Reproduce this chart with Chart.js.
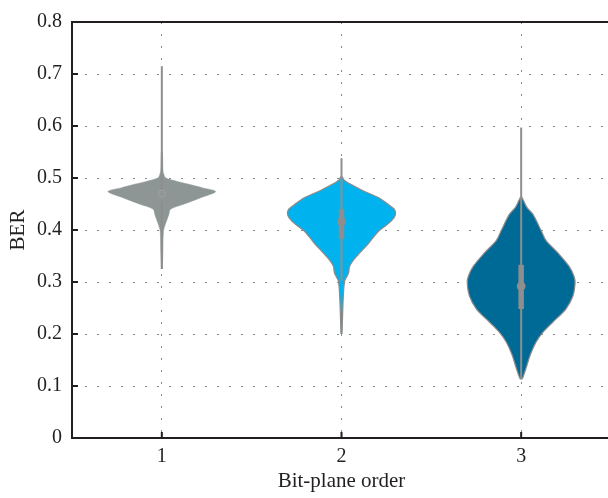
<!DOCTYPE html>
<html>
<head>
<meta charset="utf-8">
<script src="https://cdn.jsdelivr.net/npm/chart.js@4/dist/chart.umd.min.js"></script>
<style>
  html, body { margin: 0; padding: 0; background: #fff; }
  #wrap { width: 608px; height: 498px; overflow: hidden; }
</style>
</head>
<body>
<div id="wrap"><canvas id="berChart" width="616" height="498"></canvas></div>
<script>
const planeOrders = [1, 2, 3];
const yTickValues = [0, 0.1, 0.2, 0.3, 0.4, 0.5, 0.6, 0.7, 0.8];

// density outlines per bit plane: BER levels and relative width (1 = widest)
const plane1Levels  = [0.325, 0.36, 0.398, 0.411, 0.43, 0.44, 0.449, 0.462, 0.474, 0.481, 0.487, 0.493, 0.5, 0.506, 0.515, 0.55];
const plane1Density = [0.01, 0.02, 0.03, 0.065, 0.13, 0.16, 0.39, 0.72, 1.0, 0.76, 0.54, 0.3, 0.075, 0.04, 0.02, 0.01];

const plane2Levels  = [0.2, 0.26, 0.292, 0.304, 0.317, 0.33, 0.342, 0.355, 0.374, 0.386, 0.399, 0.405, 0.418, 0.429, 0.44, 0.449, 0.462, 0.474, 0.487, 0.493, 0.497, 0.502];
const plane2Density = [0.01, 0.028, 0.046, 0.065, 0.13, 0.15, 0.22, 0.33, 0.5, 0.59, 0.7, 0.78, 0.93, 1.0, 0.98, 0.87, 0.69, 0.43, 0.19, 0.09, 0.04, 0.015];

const plane3Levels  = [0.113, 0.116, 0.135, 0.16, 0.185, 0.204, 0.223, 0.248, 0.273, 0.298, 0.311, 0.33, 0.355, 0.38, 0.399, 0.43, 0.443, 0.455, 0.463];
const plane3Density = [0.01, 0.03, 0.093, 0.17, 0.28, 0.41, 0.59, 0.83, 0.96, 1.0, 0.98, 0.89, 0.69, 0.46, 0.37, 0.22, 0.11, 0.05, 0.01];

// [whisker low, q1, median, q3, whisker high]
const plane1Stats = [0.325, 0.455, 0.47, 0.478, 0.715];
const plane2Stats = [0.302, 0.383, 0.416, 0.44, 0.538];
const plane3Stats = [0.113, 0.248, 0.292, 0.333, 0.597];

const fills = ['#8d9695', '#00b3ef', '#006a96'];
const edges = ['#8d9695', '#8c8c8c', '#8c8c8c'];
const boxGray = '#8e8e8e';
const HALF = 0.3; // widest half-width in category units

const levels = [plane1Levels, plane2Levels, plane3Levels];
const densities = [plane1Density, plane2Density, plane3Density];
const stats = [plane1Stats, plane2Stats, plane3Stats];

function outline(pos, ys, ds) {
  const right = ys.map((y, i) => ({ x: pos + ds[i] * HALF, y }));
  const left = ys.map((y, i) => ({ x: pos - ds[i] * HALF, y })).reverse();
  return right.concat(left);
}

const datasets = [];
planeOrders.forEach((pos, i) => {
  datasets.push({
    data: outline(pos, levels[i], densities[i]),
    showLine: true, fill: 'shape', tension: 0.3,
    backgroundColor: fills[i], borderColor: edges[i], borderWidth: i === 0 ? 0.5 : 1.2,
    pointRadius: 0, order: 3
  });
  const s = stats[i];
  datasets.push({
    data: [{ x: pos, y: s[0] }, { x: pos, y: s[4] }],
    showLine: true, borderColor: boxGray, borderWidth: 2, pointRadius: 0, order: 2
  });
  datasets.push({
    data: [{ x: pos, y: s[1] }, { x: pos, y: s[3] }],
    showLine: true, borderColor: i === 0 ? fills[0] : boxGray, borderWidth: 5.5, pointRadius: 0, order: 1
  });
  datasets.push({
    data: [{ x: pos, y: s[2] }],
    showLine: false, pointRadius: i === 0 ? 3.5 : 4,
    pointBackgroundColor: i === 0 ? fills[0] : boxGray,
    pointBorderColor: i === 0 ? '#a3a0a8' : boxGray, pointBorderWidth: 1, order: 0
  });
});

// inward ticks and the top frame line
const frame = {
  id: 'frame',
  afterDraw(chart) {
    const { ctx, chartArea: a, scales } = chart;
    ctx.save();
    ctx.strokeStyle = '#231f20';
    ctx.lineWidth = 2;
    ctx.beginPath();
    ctx.moveTo(a.left - 1, a.top);
    ctx.lineTo(a.right, a.top);
    yTickValues.forEach(v => {
      const py = scales.y.getPixelForValue(v);
      ctx.moveTo(a.left, py);
      ctx.lineTo(a.left + 6, py);
    });
    planeOrders.forEach(v => {
      const px = scales.x.getPixelForValue(v);
      ctx.moveTo(px, a.bottom);
      ctx.lineTo(px, a.bottom - 6);
    });
    ctx.stroke();
    ctx.restore();
  }
};

const family = '"Liberation Serif", "DejaVu Serif", serif';
const tickFont = { family, size: 20 };
const titleFont = { family, size: 21 };

new Chart(document.getElementById('berChart'), {
  type: 'scatter',
  data: { datasets },
  plugins: [frame],
  options: {
    responsive: false, animation: false,
    layout: { padding: { top: 14, right: 0, left: 0, bottom: 0 } },
    plugins: { legend: { display: false }, tooltip: { enabled: false } },
    scales: {
      x: {
        type: 'linear', min: 0.5, max: 3.5,
        afterBuildTicks: s => { s.ticks = planeOrders.map(v => ({ value: v })); },
        afterFit: s => { s.height = 60; },
        ticks: { color: '#231f20', font: tickFont, padding: 7, callback: v => String(v) },
        grid: { color: '#8a8a8a', lineWidth: 1, drawTicks: false },
        border: { color: '#231f20', width: 2, dash: [2, 10] },
        title: { display: true, text: 'Bit-plane order', color: '#231f20', font: titleFont, padding: { bottom: 4 } }
      },
      y: {
        min: 0, max: 0.8,
        afterBuildTicks: s => { s.ticks = yTickValues.map(v => ({ value: v })); },
        afterFit: s => { s.width = 72; },
        ticks: { color: '#231f20', font: tickFont, padding: 10, callback: v => v === 0 ? '0' : v.toFixed(1) },
        grid: {
          color: ctx => (ctx.tick && (ctx.tick.value === 0 || ctx.tick.value === 0.8)) ? 'rgba(0,0,0,0)' : '#8a8a8a',
          lineWidth: 1, drawTicks: false
        },
        border: { color: '#231f20', width: 2, dash: [2, 10] },
        title: { display: true, text: 'BER', color: '#231f20', font: titleFont, padding: { top: 6 } }
      }
    }
  }
});
</script>
</body>
</html>
